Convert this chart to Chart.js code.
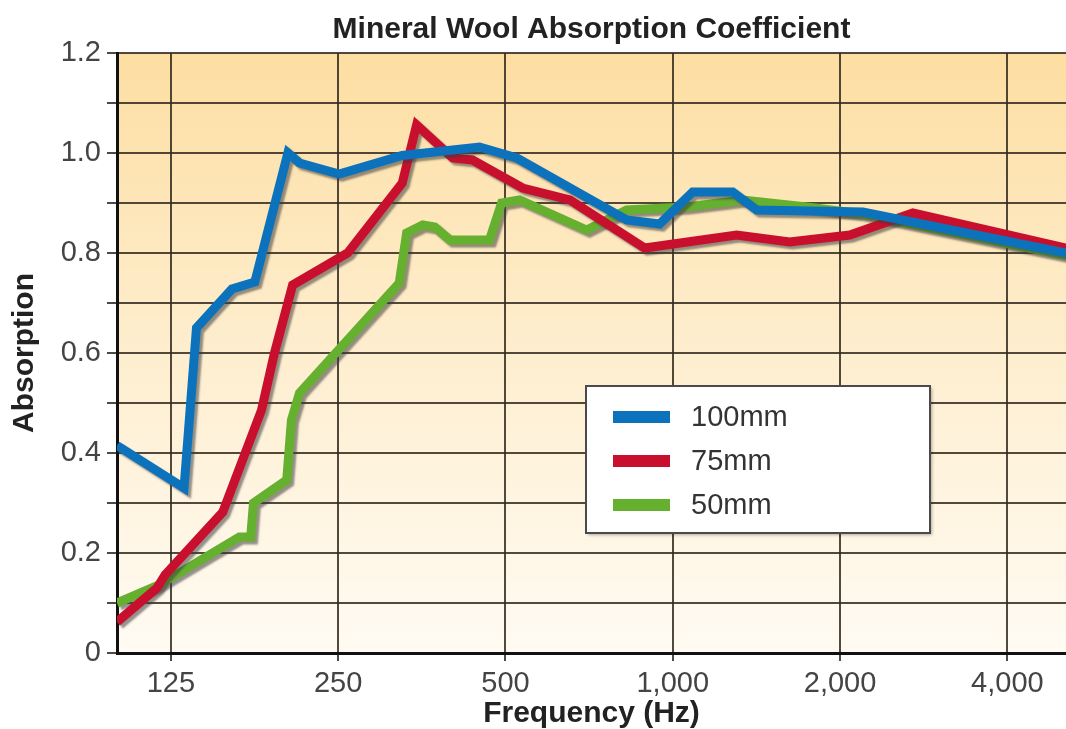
<!DOCTYPE html>
<html>
<head>
<meta charset="utf-8">
<title>Mineral Wool Absorption Coefficient</title>
<script src="https://cdn.jsdelivr.net/npm/chart.js@4.4.1/dist/chart.umd.min.js"></script>
<style>
  html, body { margin: 0; padding: 0; background: #fff; }
</style>
</head>
<body>
<canvas id="myChart" width="1066" height="729"></canvas>
<script>
// tick labels on the frequency axis
var xTicks = [125, 250, 500, 1000, 2000, 4000];

// 100mm
var freq100 = [100, 132, 139, 161, 177, 203, 213, 251, 326, 449, 524, 826, 947, 1086, 1282, 1416, 2198, 5100];
var abs100  = [0.415, 0.33, 0.65, 0.728, 0.742, 1.0, 0.98, 0.958, 0.995, 1.012, 0.99, 0.866, 0.858, 0.922, 0.922, 0.886, 0.882, 0.80];

// 75mm
var freq75 = [100, 118, 122, 155, 182, 192, 207, 260, 326, 346, 402, 436, 537, 653, 890, 1303, 1623, 2082, 2704, 5100];
var abs75  = [0.062, 0.13, 0.156, 0.282, 0.486, 0.60, 0.736, 0.80, 0.94, 1.056, 0.99, 0.986, 0.93, 0.906, 0.81, 0.836, 0.822, 0.836, 0.88, 0.81];

// 50mm
var freq50 = [100, 119, 166, 174, 176, 202, 206, 213, 322, 332, 355, 373, 397, 468, 492, 530, 700, 826, 1059, 1336, 1742, 2198, 5100];
var abs50  = [0.10, 0.136, 0.232, 0.232, 0.30, 0.346, 0.466, 0.52, 0.74, 0.84, 0.856, 0.852, 0.826, 0.826, 0.90, 0.906, 0.846, 0.886, 0.892, 0.906, 0.892, 0.878, 0.795];

var labels = ['100mm', '75mm', '50mm'];
var colors = ['#0b72bb', '#c8102e', '#66b030'];

function toPoints(fs, vs) {
    return fs.map(function (f, i) { return { x: f, y: vs[i] }; });
}

Chart.defaults.font.family = '"Liberation Sans", Arial, Helvetica, sans-serif';

var gridColor = 'rgba(50,42,30,0.85)';

// orange fade behind the plot
var bgPlugin = {
    id: 'bg',
    beforeDraw: function (chart) {
        var a = chart.chartArea, ctx = chart.ctx;
        var g = ctx.createLinearGradient(0, a.top, 0, a.bottom);
        g.addColorStop(0, '#fddea2');
        g.addColorStop(0.5, '#feeecf');
        g.addColorStop(1, '#fffbf3');
        ctx.save();
        ctx.fillStyle = g;
        ctx.fillRect(a.left, a.top, a.right - a.left, a.bottom - a.top);
        ctx.restore();
    }
};

// grey drop shadow under each line
var shadowPlugin = {
    id: 'lineShadow',
    beforeDatasetDraw: function (chart) {
        var ctx = chart.ctx;
        ctx.save();
        ctx.shadowColor = 'rgba(60,60,60,0.55)';
        ctx.shadowOffsetX = 3;
        ctx.shadowOffsetY = 3;
        ctx.shadowBlur = 2;
    },
    afterDatasetDraw: function (chart) {
        chart.ctx.restore();
    }
};

// boxed legend inside the plot
var legendPlugin = {
    id: 'boxLegend',
    afterDraw: function (chart) {
        var ctx = chart.ctx, a = chart.chartArea;
        var x = a.left + 469, y = a.top + 333, w = 344, h = 147;
        ctx.save();
        ctx.shadowColor = 'rgba(0,0,0,0.3)';
        ctx.shadowOffsetX = 2;
        ctx.shadowOffsetY = 2;
        ctx.shadowBlur = 3;
        ctx.fillStyle = '#fff';
        ctx.fillRect(x, y, w, h);
        ctx.shadowColor = 'transparent';
        ctx.strokeStyle = '#4a4a4a';
        ctx.lineWidth = 2;
        ctx.strokeRect(x, y, w, h);
        ctx.font = '29px "Liberation Sans", Arial, sans-serif';
        ctx.textBaseline = 'middle';
        chart.data.datasets.forEach(function (ds, i) {
            var cy = y + 31 + i * 44;
            ctx.fillStyle = ds.borderColor;
            ctx.fillRect(x + 27, cy - 6, 57, 12);
            ctx.fillStyle = '#333';
            ctx.fillText(ds.label, x + 105, cy + 1);
        });
        ctx.restore();
    }
};

var series = [toPoints(freq100, abs100), toPoints(freq75, abs75), toPoints(freq50, abs50)];

var ctx = document.getElementById('myChart').getContext('2d');
var myChart = new Chart(ctx, {
    type: 'line',
    data: {
        datasets: series.map(function (pts, i) {
            return {
                label: labels[i],
                data: pts,
                borderColor: colors[i],
                backgroundColor: colors[i],
                borderWidth: 9,
                borderJoinStyle: 'miter',
                pointRadius: 0,
                tension: 0,
                fill: false
            };
        })
    },
    options: {
        responsive: false,
        animation: false,
        layout: { padding: 0 },
        plugins: {
            legend: { display: false },
            tooltip: { enabled: false },
            title: {
                display: true,
                fullSize: false,
                text: 'Mineral Wool Absorption Coefficient',
                color: '#222',
                font: { size: 30, weight: 'bold', lineHeight: 1.2 },
                padding: { top: 12, bottom: 5 }
            }
        },
        scales: {
            x: {
                type: 'logarithmic',
                min: 100,
                max: 5100,
                afterBuildTicks: function (s) {
                    s.ticks = xTicks.map(function (v) { return { value: v }; });
                },
                afterFit: function (s) { s.height = 76; },
                ticks: {
                    autoSkip: false,
                    maxRotation: 0,
                    padding: 8,
                    color: '#444',
                    font: { size: 29, lineHeight: 1 },
                    callback: function (v) { return Number(v).toLocaleString('en-US'); }
                },
                grid: { color: gridColor, lineWidth: 2, tickLength: 8 },
                border: { color: '#111', width: 3 },
                title: {
                    display: true,
                    text: 'Frequency (Hz)',
                    color: '#222',
                    font: { size: 30, weight: 'bold', lineHeight: 1 },
                    padding: { top: 0, bottom: 0 }
                }
            },
            y: {
                min: 0,
                max: 1.2,
                afterFit: function (s) { s.width = 117; },
                ticks: {
                    stepSize: 0.1,
                    autoSkip: false,
                    padding: 6,
                    color: '#444',
                    font: { size: 29 },
                    callback: function (v) {
                        var t = Math.round(v * 10);
                        if (t === 0) return '0';
                        return t % 2 === 0 ? (t / 10).toFixed(1) : '';
                    }
                },
                grid: { color: gridColor, lineWidth: 2, tickLength: 10 },
                border: { color: '#111', width: 3 },
                title: {
                    display: true,
                    text: 'Absorption',
                    color: '#222',
                    font: { size: 30, weight: 'bold', lineHeight: 1 },
                    padding: { top: 10, bottom: 0 }
                }
            }
        }
    },
    plugins: [bgPlugin, shadowPlugin, legendPlugin]
});
</script>
</body>
</html>
